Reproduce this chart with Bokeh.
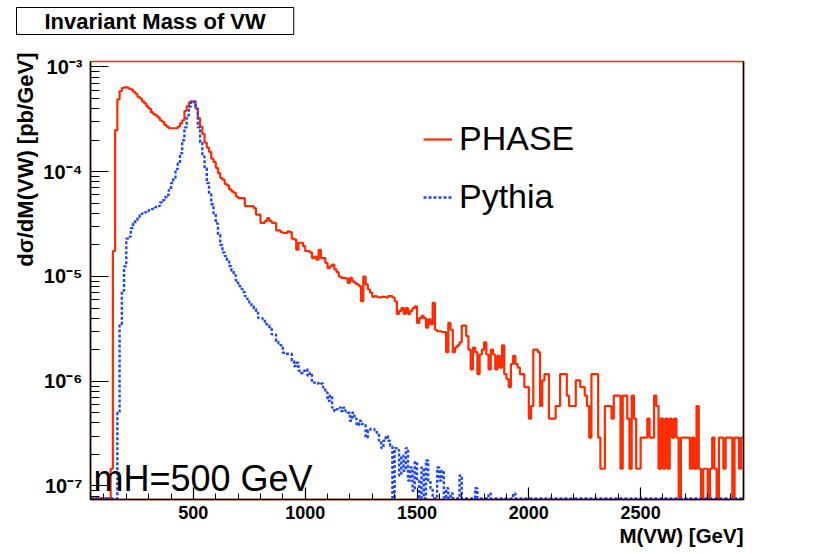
import math
from bokeh.plotting import figure
from bokeh.models import (Range1d, FixedTicker, CustomJSTickFormatter, Label,
                          Legend, LegendItem, LogAxis, Title)
from bokeh.embed import file_html
from bokeh.resources import INLINE

# ---------------- data ----------------
bin_width = 10
bin_edges = list(range(40, 2960 + bin_width, bin_width))   # 40 ... 2960 GeV

# PHASE, dsigma/dM [pb/GeV], one value per 10 GeV bin starting at 40 GeV
phase_values = [
    0, 0, 0, 0, 0, 0, 0, 0, 0, 1.46e-7,                                   # 40-130
    1.75e-5, 2.5e-4, 4.9e-4, 5.9e-4, 6.3e-4, 6.4e-4, 6.4e-4, 6.2e-4, 6.1e-4, 5.8e-4,
    5.55e-4, 5.2e-4, 5.0e-4, 4.7e-4, 4.5e-4, 4.2e-4, 4.0e-4, 3.7e-4, 3.55e-4, 3.45e-4,
    3.3e-4, 3.1e-4, 3.0e-4, 2.8e-4, 2.7e-4, 2.6e-4, 2.6e-4, 2.6e-4, 2.6e-4, 2.7e-4,
    2.9e-4, 3.1e-4, 3.8e-4, 4.2e-4, 4.6e-4, 4.7e-4, 4.6e-4, 4.0e-4, 3.25e-4, 2.7e-4,
    2.3e-4, 1.9e-4, 1.7e-4, 1.55e-4, 1.33e-4, 1.24e-4, 1.09e-4, 9.7e-5, 8.7e-5, 8.4e-5,
    7.65e-5, 7.4e-5, 6.8e-5, 6.5e-5, 6.3e-5, 5.8e-5, 5.6e-5, 5.6e-5, 5.6e-5, 4.7e-5,
    4.7e-5, 4.7e-5, 4.7e-5, 4.5e-5, 3.9e-5, 3.9e-5, 3.25e-5, 3.25e-5, 3.4e-5, 3.6e-5,
    3.4e-5, 3.25e-5, 3.25e-5, 2.75e-5, 2.75e-5, 2.65e-5, 2.6e-5, 2.6e-5, 2.7e-5, 2.65e-5,
    2.3e-5, 2.25e-5, 1.8e-5, 2.1e-5, 2.1e-5, 1.95e-5, 1.75e-5, 1.75e-5, 1.7e-5, 1.5e-5,
    1.55e-5, 1.45e-5, 1.8e-5, 1.5e-5, 1.5e-5, 1.35e-5, 1.2e-5, 1.25e-5, 1.3e-5, 1.17e-5,
    1.1e-5, 1.0e-5, 9.7e-6, 9.7e-6, 9.6e-6, 8.7e-6, 9.7e-6, 9.0e-6, 8.7e-6, 8.4e-6,
    8.1e-6, 5.8e-6, 1.0e-5, 8.4e-6, 7.55e-6, 7.0e-6, 6.4e-6, 6.5e-6, 6.4e-6, 6.3e-6,
    6.4e-6, 6.4e-6, 6.3e-6, 6.5e-6, 6.5e-6, 6.3e-6, 5.8e-6, 4.4e-6, 4.7e-6, 5.0e-6,
    4.4e-6, 5.0e-6, 4.4e-6, 4.7e-6, 5.0e-6, 5.2e-6, 3.6e-6, 4.0e-6, 4.2e-6, 4.0e-6,
    3.25e-6, 3.9e-6, 3.5e-6, 5.6e-6, 3.1e-6, 3.0e-6, 3.0e-6, 2.95e-6, 2.95e-6, 1.9e-6,
    3.6e-6, 3.1e-6, 1.9e-6, 2.1e-6, 2.2e-6, 2.35e-6, 3.4e-6, 3.4e-6, 2.7e-6, 2.0e-6,
    1.3e-6, 2.1e-6, 1.9e-6, 1.17e-6, 1.8e-6, 2.0e-6, 2.35e-6, 1.8e-6, 1.3e-6, 2.0e-6,
    1.8e-6, 1.3e-6, 1.75e-6, 1.35e-6, 2.2e-6, 1.17e-6, 1.05e-6, 8.8e-7, 1.46e-6, 1.75e-6,
    1.46e-6, 1.35e-6, 1.17e-6, 1.17e-6, 8.8e-7, 8.8e-7, 4.4e-7, 5.8e-7, 2.0e-6, 2.0e-6,
    1.9e-6, 5.8e-7, 1.02e-6, 1.17e-6, 1.17e-6, 4.4e-7, 4.4e-7, 4.4e-7, 5.8e-7, 5.8e-7,
    1.17e-6, 1.17e-6, 1.17e-6, 7.3e-7, 5.8e-7, 5.8e-7, 5.8e-7, 1.02e-6, 1.02e-6, 8.8e-7,
    8.8e-7, 7.3e-7, 5.8e-7, 2.9e-7, 1.17e-6, 1.17e-6, 1.17e-6, 2.9e-7, 1.46e-7, 1.46e-7,
    5.8e-7, 5.8e-7, 5.8e-7, 4.4e-7, 7.3e-7, 7.3e-7, 7.3e-7, 1.46e-7, 7.3e-7, 7.3e-7,
    4.4e-7, 1.46e-7, 7.3e-7, 4.4e-7, 1.46e-7, 1.46e-7, 2.9e-7, 2.9e-7, 2.9e-7, 4.4e-7,
    2.9e-7, 2.9e-7, 7.3e-7, 5.8e-7, 1.46e-7, 4.4e-7, 1.46e-7, 4.4e-7, 1.46e-7, 4.4e-7,
    2.9e-7, 4.4e-7, 2.9e-7, 0, 2.9e-7, 2.9e-7, 2.9e-7, 2.9e-7, 1.46e-7, 2.9e-7,
    1.46e-7, 5.8e-7, 1.46e-7, 0, 1.46e-7, 1.46e-7, 0, 1.46e-7, 2.9e-7, 1.46e-7,
    0, 2.9e-7, 2.9e-7, 1.46e-7, 2.9e-7, 2.9e-7, 2.9e-7, 0, 2.9e-7, 2.9e-7,
    1.46e-7, 2.9e-7,                                                       # 2940-2950
]

# Pythia, same binning
pythia_values = [
    0, 0, 0, 0, 0, 0, 0, 0, 0, 0,                                         # 40-130
    0, 0, 5e-7, 3.5e-6, 7.3e-6, 1.25e-5, 2.3e-5, 2.4e-5, 2.9e-5, 3.2e-5,
    3.45e-5, 3.7e-5, 3.85e-5, 4.0e-5, 4.1e-5, 4.2e-5, 4.3e-5, 4.4e-5, 4.45e-5, 4.6e-5,
    4.7e-5, 5.1e-5, 5.35e-5, 5.7e-5, 6.0e-5, 6.7e-5, 7.8e-5, 8.7e-5, 1.06e-4, 1.2e-4,
    1.5e-4, 2.0e-4, 2.65e-4, 3.45e-4, 4.2e-4, 4.7e-4, 4.7e-4, 4.0e-4, 2.65e-4, 1.9e-4,
    1.4e-4, 1.08e-4, 7.8e-5, 6.1e-5, 4.9e-5, 4.0e-5, 3.2e-5, 2.5e-5, 2.0e-5, 1.7e-5,
    1.57e-5, 1.4e-5, 1.26e-5, 1.13e-5, 1.03e-5, 9.1e-6, 8.1e-6, 7.6e-6, 7.1e-6, 6.5e-6,
    6.1e-6, 5.6e-6, 5.2e-6, 4.9e-6, 4.5e-6, 4.0e-6, 4.0e-6, 3.9e-6, 3.5e-6, 3.4e-6,
    3.2e-6, 2.8e-6, 2.8e-6, 2.4e-6, 2.3e-6, 2.2e-6, 1.87e-6, 1.83e-6, 1.83e-6, 1.83e-6,
    1.57e-6, 1.4e-6, 1.5e-6, 1.26e-6, 1.2e-6, 1.26e-6, 1.3e-6, 1.13e-6, 1.2e-6, 9.7e-7,
    9.7e-7, 9.5e-7, 9.7e-7, 9.5e-7, 8.7e-7, 7.8e-7, 6.5e-7, 7.3e-7, 5.6e-7, 5.2e-7,
    5.4e-7, 5.6e-7, 5.2e-7, 5.6e-7, 5.2e-7, 5.0e-7, 4.2e-7, 5.0e-7, 4.4e-7, 3.8e-7,
    4.2e-7, 3.9e-7, 3.9e-7, 2.9e-7, 3.4e-7, 3.5e-7, 3.5e-7, 3.4e-7, 3.2e-7, 2.7e-7,
    2.3e-7, 2.7e-7, 3.0e-7, 2.7e-7, 2.4e-7, 0, 2.3e-7, 2.2e-7, 1.26e-7, 1.95e-7,
    1.4e-7, 2.3e-7, 1.13e-7, 1.5e-7, 9.0e-8, 1.7e-7, 1.13e-7, 0, 1.5e-7, 0,
    1.75e-7, 1.13e-7, 9.5e-8, 0, 0, 1.5e-7, 1.13e-7, 1.4e-7, 0, 9.5e-8,
    0, 8.5e-8, 0, 0, 0, 1.26e-7, 0, 0, 0, 0,
    0, 0, 9.5e-8, 0, 0, 0, 0, 0, 8.5e-8, 0,
    0, 0, 0, 0, 0, 0, 0, 0, 0, 8.5e-8,                                    # 1840-1930
] + [0.0] * 102                                                            # 1940-2950

x_tick_values = [500, 1000, 1500, 2000, 2500]
x_minor_values = list(range(100, 3000, 100))
y_tick_values = [1e-7, 1e-6, 1e-5, 1e-4, 1e-3]
y_minor_values = [m * 10.0 ** e for e in range(-8, -3) for m in range(2, 10)]

series_names = ["PHASE", "Pythia"]
title_text = "Invariant Mass of VW"
x_title = "M(VW) [GeV]"
y_title = "dσ/dM(VW) [pb/GeV]"
note_text = "mH=500 GeV"

assert len(phase_values) == len(bin_edges) - 1
assert len(pythia_values) == len(bin_edges) - 1

# ---------------- styling ----------------
RED = "#ff2a00"
BLUE = "#1e46ff"
FONT = "Liberation Sans"
X_MIN, X_MAX = 40, 2960
Y_MIN, Y_MAX = 7.43e-8, 1.128e-3
FLOOR = 7.6e-8          # empty bins are drawn on the bottom edge (ROOT log style)


def step_y(vals):
    v = [val if val > FLOOR else FLOOR for val in vals]
    return v + [v[-1]]


p = figure(width=816, height=554,
           x_range=Range1d(X_MIN, X_MAX), y_range=Range1d(Y_MIN, Y_MAX),
           y_axis_type="log", output_backend="svg", toolbar_location=None,
           min_border_left=90, min_border_right=73, min_border_top=60,
           min_border_bottom=55)
p.xgrid.visible = False
p.ygrid.visible = False
p.background_fill_color = "white"
p.border_fill_color = "white"
p.outline_line_color = RED
p.outline_line_width = 1.5

# main title in a framed box
p.title.text = title_text
p.title.align = "left"
p.title.offset = -74
p.title.text_font = FONT
p.title.text_font_style = "bold"
p.title.text_font_size = "22px"
p.title.text_color = "black"
p.title.border_line_color = "black"
p.title.border_line_width = 1
p.title.background_fill_color = "white"
p.title.padding = (28, 1)
# empty spacer between the title box and the frame
p.add_layout(Title(text=" ", text_font_size="18px", standoff=0), "above")

r_phase = p.step(x=bin_edges, y=step_y(phase_values), mode="after",
                 line_color=RED, line_width=2.2)
r_pythia = p.step(x=bin_edges, y=step_y(pythia_values), mode="after",
                  line_color=BLUE, line_width=2.4, line_dash="3 2")

# axes
xa = p.xaxis[0]
xa.ticker = FixedTicker(ticks=x_tick_values, minor_ticks=x_minor_values)
xa.major_tick_in, xa.major_tick_out = 12, 0
xa.minor_tick_in, xa.minor_tick_out = 6, 0
xa.axis_line_width = 1.5
xa.major_tick_line_width = 1.2
xa.minor_tick_line_width = 1.0
xa.major_label_text_font = FONT
xa.major_label_text_font_style = "bold"
xa.major_label_text_font_size = "18px"
xa.major_label_text_color = "black"
xa.major_label_standoff = 6

ya = p.yaxis[0]
ya.ticker = FixedTicker(ticks=y_tick_values, minor_ticks=y_minor_values)
ya.formatter = CustomJSTickFormatter(code="""
    const sup = {"-": "\u207b", "0": "\u2070", "1": "\u00b9", "2": "\u00b2", "3": "\u00b3",
                 "4": "\u2074", "5": "\u2075", "6": "\u2076", "7": "\u2077", "8": "\u2078", "9": "\u2079"};
    const e = Math.round(Math.log10(tick));
    return "10" + String(e).split("").map(c => sup[c]).join("");
""")
ya.major_tick_in, ya.major_tick_out = 18, 0
ya.minor_tick_in, ya.minor_tick_out = 9, 0
ya.axis_line_width = 1.5
ya.major_tick_line_width = 1.2
ya.minor_tick_line_width = 1.0
ya.major_label_text_font = FONT
ya.major_label_text_font_style = "bold"
ya.major_label_text_font_size = "20px"
ya.major_label_text_color = "black"
ya.major_label_standoff = 8

right_axis = LogAxis(ticker=FixedTicker(ticks=[]), axis_line_width=1.5,
                     major_tick_in=0, major_tick_out=0, minor_tick_in=0, minor_tick_out=0)
p.add_layout(right_axis, "right")

# axis titles, aligned to the far end of each axis as in ROOT
p.add_layout(Title(text=y_title, align="right", offset=-9, standoff=6,
                   text_font=FONT, text_font_style="bold", text_font_size="22px",
                   text_color="black"), "left")
p.add_layout(Title(text=x_title, align="right", offset=0, standoff=0,
                   text_font=FONT, text_font_style="bold", text_font_size="20.5px",
                   text_color="black"), "below")

# legend
legend = Legend(items=[LegendItem(label=series_names[0], renderers=[r_phase]),
                       LegendItem(label=series_names[1], renderers=[r_pythia])],
                location=(333, 283), border_line_color=None, background_fill_alpha=0,
                label_text_font=FONT, label_text_font_size="34px", label_text_color="black",
                glyph_width=29, glyph_height=36, label_height=36, label_standoff=7,
                spacing=19, padding=0, margin=0)
p.add_layout(legend)

p.add_layout(Label(x=3, y=21, x_units="screen", y_units="screen", text=note_text,
                   text_align="left", text_baseline="alphabetic", text_color="black",
                   text_font=FONT, text_font_size="36px"))

open("out.html", "w").write(file_html(p, INLINE))
